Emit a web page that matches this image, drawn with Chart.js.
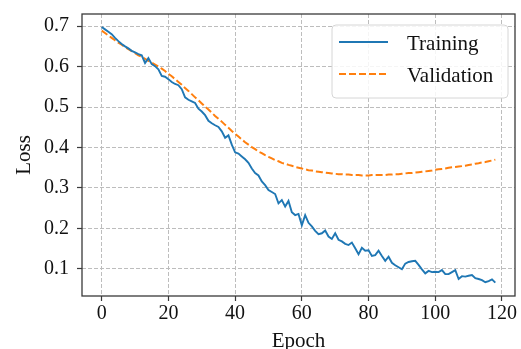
<!DOCTYPE html>
<html>
<head>
<meta charset="utf-8">
<script src="https://cdn.jsdelivr.net/npm/chart.js@4/dist/chart.umd.min.js"></script>
<style>
  html, body { margin: 0; padding: 0; background: #fff; }
  canvas { display: block; }
</style>
</head>
<body>
<canvas id="lossChart" width="521" height="349"></canvas>
<script>
// per-epoch loss, epochs 0..118
const trainLoss = [
  0.698, 0.692, 0.686, 0.680, 0.671, 0.663, 0.656, 0.650, 0.645, 0.639,
  0.635, 0.631, 0.628, 0.609, 0.621, 0.606, 0.601, 0.593, 0.577, 0.575,
  0.569, 0.562, 0.557, 0.554, 0.544, 0.524, 0.518, 0.514, 0.510, 0.496,
  0.489, 0.480, 0.466, 0.460, 0.455, 0.451, 0.440, 0.424, 0.430, 0.407,
  0.388, 0.385, 0.378, 0.371, 0.362, 0.348, 0.337, 0.331, 0.316, 0.307,
  0.295, 0.290, 0.285, 0.262, 0.270, 0.254, 0.268, 0.240, 0.233, 0.236,
  0.208, 0.233, 0.214, 0.205, 0.194, 0.186, 0.188, 0.195, 0.180, 0.174,
  0.188, 0.172, 0.168, 0.162, 0.159, 0.165, 0.151, 0.136, 0.152, 0.145,
  0.146, 0.132, 0.134, 0.145, 0.132, 0.120, 0.130, 0.115, 0.109, 0.104,
  0.099, 0.113, 0.117, 0.119, 0.120, 0.110, 0.099, 0.089, 0.095, 0.092,
  0.093, 0.092, 0.097, 0.087, 0.087, 0.092, 0.097, 0.075, 0.082, 0.081,
  0.083, 0.085, 0.077, 0.075, 0.072, 0.067, 0.070, 0.074, 0.066
];
const valLoss = [
  0.689, 0.683, 0.677, 0.671, 0.665, 0.659, 0.654, 0.648, 0.643, 0.638,
  0.633, 0.628, 0.624, 0.619, 0.614, 0.610, 0.605, 0.600, 0.595, 0.589,
  0.582, 0.576, 0.569, 0.562, 0.555, 0.547, 0.540, 0.532, 0.524, 0.517,
  0.509, 0.501, 0.494, 0.486, 0.478, 0.471, 0.464, 0.456, 0.449, 0.441,
  0.434, 0.427, 0.420, 0.413, 0.407, 0.401, 0.396, 0.390, 0.386, 0.381,
  0.377, 0.373, 0.369, 0.366, 0.362, 0.360, 0.357, 0.355, 0.352, 0.350,
  0.348, 0.346, 0.344, 0.343, 0.341, 0.340, 0.339, 0.338, 0.337, 0.336,
  0.335, 0.334, 0.334, 0.333, 0.333, 0.332, 0.332, 0.332, 0.331, 0.331,
  0.331, 0.332, 0.332, 0.332, 0.332, 0.332, 0.333, 0.333, 0.334, 0.334,
  0.335, 0.336, 0.337, 0.337, 0.338, 0.339, 0.340, 0.341, 0.342, 0.343,
  0.345, 0.346, 0.347, 0.348, 0.350, 0.351, 0.352, 0.353, 0.354, 0.355,
  0.357, 0.358, 0.360, 0.361, 0.363, 0.364, 0.366, 0.368, 0.370
];
const xTicks = [0, 20, 40, 60, 80, 100, 120];
const yTicks = [0.1, 0.2, 0.3, 0.4, 0.5, 0.6, 0.7];

const textColor = '#111';
const gridColor = '#bdbdbd';
const spineColor = '#3a3a3a';

Chart.defaults.font.family = "'Liberation Serif', 'DejaVu Serif', serif";
Chart.defaults.color = textColor;

// full box around the plot area, drawn over the lines
const frame = {
  id: 'frame',
  afterDatasetsDraw(chart) {
    const { ctx, chartArea: a } = chart;
    ctx.save();
    ctx.strokeStyle = spineColor;
    ctx.lineWidth = 1.3;
    ctx.strokeRect(a.left, a.top, a.right - a.left, a.bottom - a.top);
    ctx.restore();
  }
};

// boxed legend in the upper right corner
const boxLegend = {
  id: 'boxLegend',
  afterDraw(chart) {
    const { ctx, chartArea: a } = chart;
    const w = 176, h = 73;
    const x = a.right - 7 - w, y = a.top + 11;
    ctx.save();
    ctx.beginPath();
    ctx.roundRect(x, y, w, h, 4);
    ctx.fillStyle = 'rgba(255,255,255,0.85)';
    ctx.fill();
    ctx.strokeStyle = '#d6d6d6';
    ctx.lineWidth = 1;
    ctx.stroke();
    ctx.font = "21px 'Liberation Serif', serif";
    ctx.textBaseline = 'middle';
    ctx.fillStyle = textColor;
    chart.data.datasets.forEach((ds, i) => {
      const ly = y + 17 + i * 32;
      ctx.beginPath();
      ctx.setLineDash(ds.borderDash || []);
      ctx.strokeStyle = ds.borderColor;
      ctx.lineWidth = ds.borderWidth;
      ctx.moveTo(x + 7, ly);
      ctx.lineTo(x + 56, ly);
      ctx.stroke();
      ctx.setLineDash([]);
      ctx.fillText(ds.label, x + 75, ly + 2.5);
    });
    ctx.restore();
  }
};

const canvas = document.getElementById('lossChart');
new Chart(canvas, {
  type: 'line',
  data: {
    datasets: [{
      label: 'Training',
      data: trainLoss.map((v, i) => ({ x: i, y: v })),
      borderColor: '#1f77b4',
      borderWidth: 1.9,
      pointRadius: 0,
      tension: 0
    }, {
      label: 'Validation',
      data: valLoss.map((v, i) => ({ x: i, y: v })),
      borderColor: '#ff7f0e',
      borderWidth: 2,
      borderDash: [7, 3],
      pointRadius: 0,
      tension: 0
    }]
  },
  options: {
    responsive: false,
    animation: false,
    devicePixelRatio: 1,
    layout: { padding: { top: 14, right: 6, left: 0, bottom: 0 } },
    plugins: {
      legend: { display: false },
      tooltip: { enabled: false }
    },
    scales: {
      x: {
        type: 'linear',
        min: -5.9,
        max: 123.9,
        afterFit(scale) {
          scale.height = 53;
          scale.paddingLeft = 0;
          scale.paddingRight = 0;
        },
        afterBuildTicks(scale) { scale.ticks = xTicks.map(v => ({ value: v })); },
        ticks: {
          color: textColor,
          padding: 1,
          maxRotation: 0,
          font: { size: 20 }
        },
        grid: {
          color: gridColor,
          lineWidth: 1,
          tickLength: 5,
          tickColor: spineColor,
          tickWidth: 1.2
        },
        border: { display: false, dash: [4, 2] },
        title: {
          display: true,
          text: 'Epoch',
          color: textColor,
          font: { size: 21 },
          padding: { top: 0, bottom: -5 }
        }
      },
      y: {
        min: 0.033,
        max: 0.73,
        afterFit(scale) {
          scale.width = 82;
          scale.paddingTop = 0;
          scale.paddingBottom = 0;
        },
        afterBuildTicks(scale) { scale.ticks = yTicks.map(v => ({ value: v })); },
        ticks: {
          color: textColor,
          padding: 8,
          font: { size: 20 },
          callback: v => v.toFixed(1)
        },
        grid: {
          color: gridColor,
          lineWidth: 1,
          tickLength: 5,
          tickColor: spineColor,
          tickWidth: 1.2
        },
        border: { display: false, dash: [4, 2] },
        title: {
          display: true,
          text: 'Loss',
          color: textColor,
          font: { size: 21 },
          padding: { top: 12, bottom: 0 }
        }
      }
    }
  },
  plugins: [frame, boxLegend]
});
</script>
</body>
</html>
